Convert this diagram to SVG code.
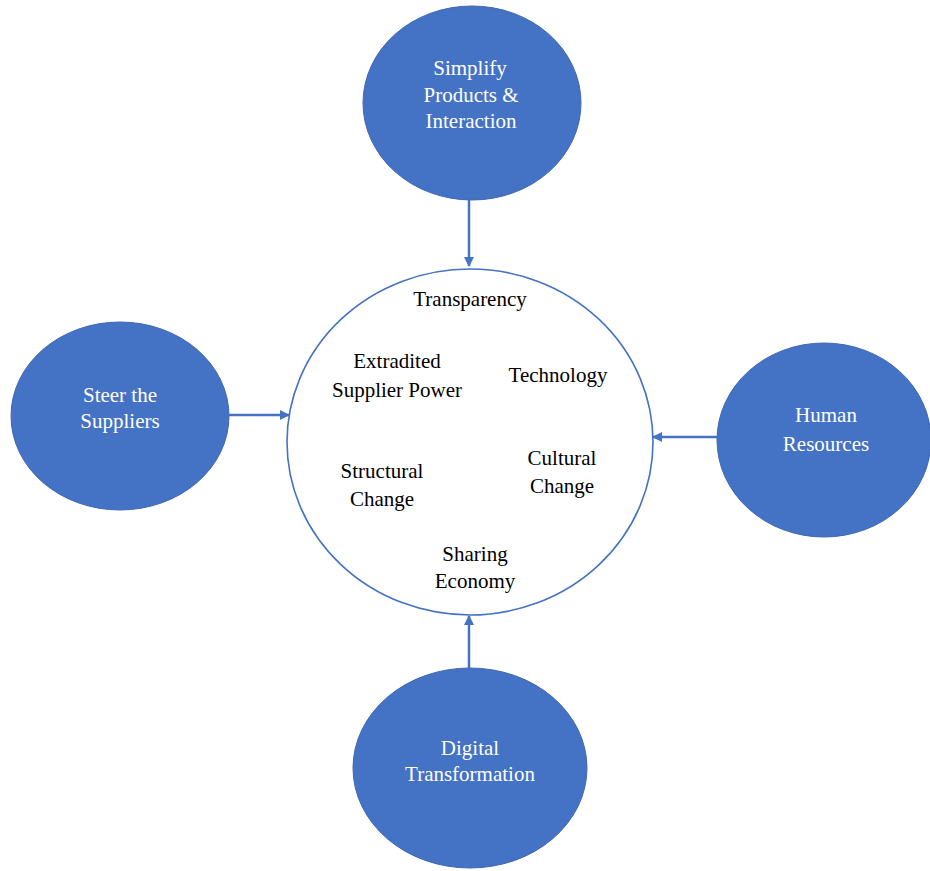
<svg xmlns="http://www.w3.org/2000/svg" width="930" height="871" viewBox="0 0 930 871">
<style>
.node{fill:#4472C4;stroke:#3F68B3;stroke-width:1}
.hub{fill:#FFFFFF;stroke:#4472C4;stroke-width:1.6}
.lbl{font-family:"Liberation Serif","Times New Roman",serif;font-size:21px;fill:#FFFFFF;text-anchor:middle}
.in{font-family:"Liberation Serif","Times New Roman",serif;font-size:21px;fill:#000000;text-anchor:middle}
.conn{stroke:#4472C4;stroke-width:2.5;fill:none;marker-end:url(#ah)}
</style>
<defs>
<marker id="ah" viewBox="0 0 10 10" refX="9" refY="5" markerWidth="4" markerHeight="4" orient="auto" markerUnits="strokeWidth">
<path d="M0,0 L10,5 L0,10 z" fill="#4472C4"/>
</marker>
</defs>
<rect width="930" height="871" fill="#FFFFFF"/>
<g id="connectors">
<line class="conn" x1="469" y1="200" x2="469" y2="266"/>
<line class="conn" x1="229" y1="415" x2="289" y2="415"/>
<line class="conn" x1="717" y1="437" x2="653" y2="437"/>
<line class="conn" x1="469" y1="668" x2="469" y2="616"/>
</g>
<g id="hub">
<ellipse class="hub" cx="470" cy="442" rx="183" ry="173"/>
<text class="in" x="470" y="306">Transparency</text>
<text class="in" x="397" y="368">Extradited</text>
<text class="in" x="397" y="397">Supplier Power</text>
<text class="in" x="558" y="382">Technology</text>
<text class="in" x="562" y="465">Cultural</text>
<text class="in" x="562" y="493">Change</text>
<text class="in" x="382" y="478">Structural</text>
<text class="in" x="382" y="506">Change</text>
<text class="in" x="475" y="561">Sharing</text>
<text class="in" x="475" y="588">Economy</text>
</g>
<g id="simplify">
<ellipse class="node" cx="472" cy="103" rx="109" ry="97"/>
<text class="lbl" x="470" y="75">Simplify</text>
<text class="lbl" x="471" y="102">Products &amp;</text>
<text class="lbl" x="471" y="128">Interaction</text>
</g>
<g id="steer">
<ellipse class="node" cx="120" cy="416" rx="109" ry="94"/>
<text class="lbl" x="120" y="402">Steer the</text>
<text class="lbl" x="120" y="428">Suppliers</text>
</g>
<g id="human">
<ellipse class="node" cx="824" cy="440" rx="107" ry="97"/>
<text class="lbl" x="826" y="422">Human</text>
<text class="lbl" x="826" y="451">Resources</text>
</g>
<g id="digital">
<ellipse class="node" cx="470" cy="768" rx="117" ry="100"/>
<text class="lbl" x="470" y="755">Digital</text>
<text class="lbl" x="470" y="781">Transformation</text>
</g>
</svg>
